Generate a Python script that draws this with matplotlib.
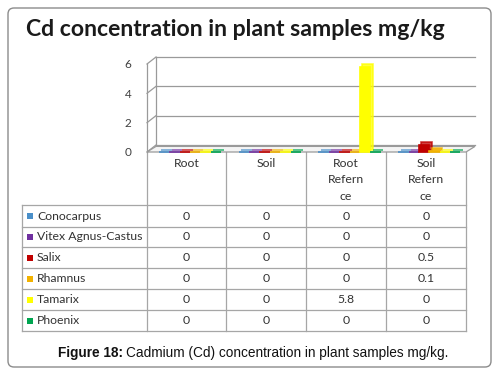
import numpy as np
import matplotlib.pyplot as plt
import matplotlib.transforms as mtransforms
from matplotlib.patches import FancyBboxPatch, Rectangle

# Data
categories = ["Root", "Soil", "Root\nRefern\nce", "Soil\nRefern\nce"]
series = ["Conocarpus", "Vitex Agnus-Castus", "Salix", "Rhamnus", "Tamarix", "Phoenix"]
conocarpus = [0, 0, 0, 0]
vitex = [0, 0, 0, 0]
salix = [0, 0, 0, 0.5]
rhamnus = [0, 0, 0, 0.1]
tamarix = [0, 0, 5.8, 0]
phoenix = [0, 0, 0, 0]
values = [conocarpus, vitex, salix, rhamnus, tamarix, phoenix]
colors = ["#4A8FC9", "#7030A0", "#C00000", "#F2B200", "#FFFF00", "#00A550"]
yticks = [0, 2, 4, 6]

W, H = 496, 377
fig = plt.figure(figsize=(W / 100, H / 100), dpi=100)

# background layer in pixel coordinates
bg = fig.add_axes([0, 0, 1, 1])
bg.set_xlim(0, W)
bg.set_ylim(H, 0)
bg.axis("off")

# rounded outer frame
bg.add_patch(FancyBboxPatch((8, 8), 483, 359, boxstyle="round,pad=0,rounding_size=6",
                            facecolor="white", edgecolor="#8C8C8C", linewidth=1.0))

bg.text(26, 30, "Cd concentration in plant samples mg/kg", fontsize=16.6, fontweight="bold",
        family="Lato", va="center", ha="left", color="#1A1A1A")

# plot area
x0, x1, y0, ytop = 147, 466, 152, 64
ax = fig.add_axes([x0 / W, 1 - y0 / H, (x1 - x0) / W, (y0 - ytop) / H])
ax.set_xlim(-0.5, len(categories) - 0.5)
ax.set_ylim(0, 6)
ax.patch.set_alpha(0)
for s in ax.spines.values():
    s.set_visible(False)
ax.set_xticks([])
ax.set_yticks(yticks)
ax.set_yticklabels([str(t) for t in yticks], family="Lato", fontsize=8.5, color="#404040")
ax.tick_params(axis="y", length=0, pad=11)

# back wall gridlines, shifted for a 3D look
dx, dy = 9, 7
gc = "#9A9A9A"
back = mtransforms.offset_copy(ax.transData, fig=fig, x=dx, y=dy, units="dots")
for t in yticks:
    ax.plot([-0.5, len(categories) - 0.5], [t, t], color=gc, lw=0.9,
            transform=back, clip_on=False, zorder=0)
    p = ax.transData.transform((-0.5, t))
    ax.plot([p[0], p[0] + dx], [p[1], p[1] + dy], color=gc, lw=0.9,
            transform=None, clip_on=False, zorder=0)
p0 = ax.transData.transform((-0.5, 0))
p6 = ax.transData.transform((-0.5, 6))
ax.plot([p0[0], p6[0]], [p0[1], p6[1]], color=gc, lw=0.9, transform=None, clip_on=False)
ax.plot([p0[0] + dx, p6[0] + dx], [p0[1] + dy, p6[1] + dy], color=gc, lw=0.9,
        transform=None, clip_on=False, zorder=0)

# floor
f0 = ax.transData.transform((-0.5, 0))
f1 = ax.transData.transform((len(categories) - 0.5, 0))
floor = plt.Polygon([f0, f1, f1 + np.array([dx, dy * 0.8]), f0 + np.array([dx, dy * 0.8])],
                    closed=True, facecolor="#F4F4F4", edgecolor=gc, lw=0.9,
                    transform=None, clip_on=False, zorder=1)
ax.add_patch(floor)

# bars (a shifted darker copy gives the side/top faces)
bw = 0.13
n = len(series)
side = mtransforms.offset_copy(ax.transData, fig=fig, x=2.5, y=2.5, units="dots")
for i, (name, vals, c) in enumerate(zip(series, values, colors)):
    xs = [k + (i - (n - 1) / 2) * bw + 0.04 for k in range(len(categories))]
    ax.bar(xs, vals, width=bw, color=c, edgecolor=c, linewidth=1.2, transform=side,
           zorder=2 + i, alpha=0.75, clip_on=False)
    ax.bar(xs, vals, width=bw, color=c, edgecolor=c, linewidth=1.2, zorder=2.5 + i,
           clip_on=False)

# data table
cols = [147, 226, 306, 386, 466]
rows = [205, 227, 247, 268, 289, 310, 331]
lc = "#A6A6A6"
tc = "#333333"
for x in cols:
    bg.plot([x, x], [152, rows[-1]], color=lc, lw=0.9)
bg.plot([22, 22], [rows[0], rows[-1]], color=lc, lw=0.9)
for y in rows:
    bg.plot([22, cols[-1]], [y, y], color=lc, lw=0.9)
for j, cat in enumerate(categories):
    cx = (cols[j] + cols[j + 1]) / 2
    bg.text(cx, 158, cat, ha="center", va="top", family="Lato", fontsize=8.8,
            color=tc, linespacing=1.6)
for i, (name, vals, c) in enumerate(zip(series, values, colors)):
    cy = (rows[i] + rows[i + 1]) / 2
    bg.add_patch(Rectangle((27, cy - 3), 6, 6, facecolor=c, edgecolor="none"))
    bg.text(37, cy, name, ha="left", va="center", family="Lato", fontsize=8.8, color=tc)
    for j, v in enumerate(vals):
        cx = (cols[j] + cols[j + 1]) / 2
        bg.text(cx, cy, f"{v:g}", ha="center", va="center", family="Lato", fontsize=8.8,
                color=tc)

# caption
cap_y = 353
t1 = bg.text(58, cap_y, "Figure 18:", ha="left", va="center", family="Liberation Sans",
             fontsize=9.8, fontweight="bold", color="#111111")
fig.canvas.draw()
bb = t1.get_window_extent()
x_end = bg.transData.inverted().transform((bb.x1, bb.y0))[0]
bg.text(x_end + 3, cap_y, "Cadmium (Cd) concentration in plant samples mg/kg.", ha="left",
        va="center", family="Liberation Sans", fontsize=9.8, color="#111111")

fig.savefig("out.png", dpi=100)
